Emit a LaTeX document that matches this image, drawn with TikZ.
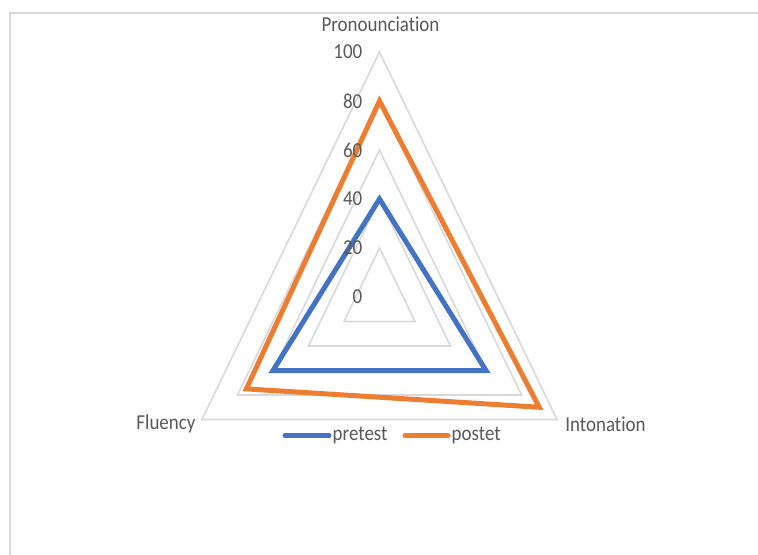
\documentclass[tikz,border=0pt]{standalone}
\usepackage{fontspec}
\usetikzlibrary{calc}
\setmainfont{Carlito}[FakeStretch=0.89, Ligatures=NoCommon]
\definecolor{gridc}{HTML}{D9D9D9}
\definecolor{txtc}{HTML}{595959}
\definecolor{blueS}{HTML}{4472C4}
\definecolor{orangeS}{HTML}{ED7D31}
\tikzset{
  gridline/.style={draw=gridc, line width=1.6bp, line join=miter},
  series/.style={line width=5bp, line join=miter},
  lbl/.style={text=txtc, inner sep=0pt, font=\fontsize{21.3bp}{25bp}\selectfont},
  ticklbl/.style={lbl, anchor=east},
}
\begin{document}
\begin{tikzpicture}[x=1bp,y=-1bp]
\useasboundingbox (0,0) rectangle (758,555);
\fill[white] (0,0) rectangle (758,555);
% frame
\draw[draw=gridc, line width=2bp] (758,13) -- (10,13) -- (10,555);
% center and axis directions
\coordinate (C) at (379.5,297);
% grid triangles
\foreach \v in {20,40,60,80,100}{
  \draw[gridline] ($(C)+(0,-2.45*\v)$) -- ($(C)+(1.775*\v,1.225*\v)$) -- ($(C)+(-1.775*\v,1.225*\v)$) -- cycle;
}
% pretest: 40, 60, 60
\coordinate (pa) at ($(C)+(0,-2.45*40)$);
\coordinate (pb) at ($(C)+(1.775*60,1.225*60)$);
\coordinate (pc) at ($(C)+(-1.775*60,1.225*60)$);
\draw[series, blueS] (pa) -- (pb) -- (pc) -- cycle;
% postet: 80, 90, 75
\coordinate (qa) at ($(C)+(0,-2.45*80)$);
\coordinate (qb) at ($(C)+(1.775*90,1.225*90)$);
\coordinate (qc) at ($(C)+(-1.775*75,1.225*75)$);
\draw[series, orangeS] (qa) -- (qb) -- (qc) -- cycle;
% tick labels
\foreach \v in {0,20,40,60,80,100}{
  \node[ticklbl] (t\v) at ($(C)+(-17,-2.45*\v)$) {\v};
}
% axis labels
\node[lbl] (ax1) at (380.5,24) {Pronounciation};
\node[lbl] (ax2) at (605.5,424) {Intonation};
\node[lbl] (ax3) at (166,424) {Fluency};
% legend
\coordinate (l1a) at (285,435.5);
\coordinate (l1b) at (329,435.5);
\draw[series, blueS, line cap=round] (l1a) -- (l1b);
\node[lbl, anchor=west] (lg1) at (332.5,435.5) {pretest};
\coordinate (l2a) at (405,435.5);
\coordinate (l2b) at (448,435.5);
\draw[series, orangeS, line cap=round] (l2a) -- (l2b);
\node[lbl, anchor=west] (lg2) at (451.5,435.5) {postet};
\end{tikzpicture}
\end{document}
